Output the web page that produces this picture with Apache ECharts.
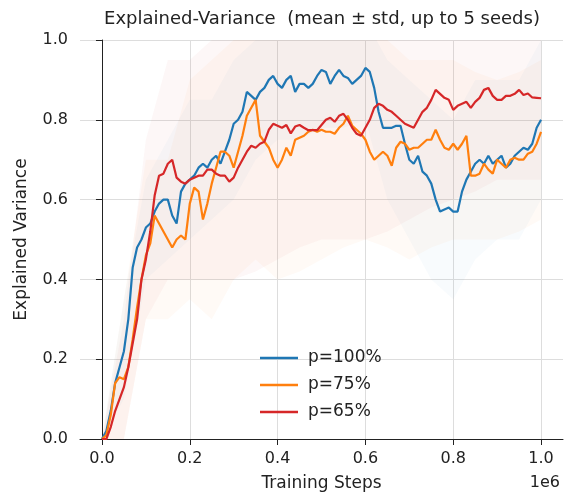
<!DOCTYPE html>
<html>
<head>
<meta charset="utf-8">
<script src="https://cdn.jsdelivr.net/npm/echarts@6/dist/echarts.min.js"></script>
<style>html,body{margin:0;padding:0;background:#fff;}#c{width:566px;height:502px;}</style>
</head>
<body>
<div id="c"></div>
<script>
// x positions in units of 1e6 training steps
const stepsM = Array.from({length: 101}, (_, i) => i / 100);

const seriesNames = ['p=100%', 'p=75%', 'p=65%'];

const meanP100 = [
  0.00,0.02,0.07,0.14,0.18,0.22,0.30,0.43,0.48,0.50,
  0.53,0.54,0.57,0.59,0.60,0.60,0.56,0.54,0.62,0.64,
  0.65,0.66,0.68,0.69,0.68,0.70,0.71,0.69,0.72,0.75,
  0.79,0.80,0.82,0.87,0.86,0.85,0.87,0.88,0.90,0.91,
  0.89,0.88,0.90,0.91,0.87,0.89,0.89,0.88,0.89,0.91,
  0.925,0.92,0.89,0.91,0.925,0.91,0.905,0.89,0.90,0.91,
  0.93,0.92,0.88,0.82,0.78,0.78,0.78,0.785,0.785,0.74,
  0.70,0.69,0.71,0.67,0.66,0.64,0.60,0.57,0.575,0.58,
  0.57,0.57,0.62,0.65,0.67,0.69,0.70,0.69,0.71,0.69,
  0.70,0.71,0.68,0.69,0.71,0.72,0.73,0.725,0.74,0.78,
  0.80
];

const meanP75 = [
  0.00,0.01,0.06,0.14,0.155,0.15,0.18,0.25,0.33,0.40,
  0.46,0.49,0.56,0.54,0.52,0.50,0.48,0.50,0.51,0.50,
  0.59,0.63,0.62,0.55,0.59,0.64,0.68,0.72,0.72,0.71,
  0.68,0.72,0.76,0.81,0.83,0.85,0.76,0.745,0.73,0.70,
  0.68,0.70,0.73,0.71,0.75,0.755,0.76,0.77,0.775,0.77,
  0.775,0.77,0.77,0.765,0.78,0.79,0.81,0.785,0.775,0.765,
  0.75,0.72,0.70,0.71,0.72,0.71,0.685,0.73,0.745,0.74,
  0.725,0.73,0.73,0.74,0.75,0.75,0.775,0.75,0.73,0.725,
  0.74,0.725,0.74,0.76,0.66,0.66,0.665,0.69,0.675,0.665,
  0.70,0.69,0.68,0.70,0.705,0.70,0.70,0.715,0.72,0.74,
  0.77
];

const meanP65 = [
  0.00,0.00,0.03,0.07,0.10,0.13,0.18,0.24,0.30,0.40,
  0.45,0.52,0.61,0.66,0.665,0.69,0.70,0.655,0.645,0.64,
  0.65,0.655,0.66,0.66,0.675,0.675,0.665,0.66,0.66,0.645,
  0.655,0.68,0.70,0.72,0.735,0.73,0.74,0.745,0.775,0.79,
  0.785,0.78,0.787,0.766,0.783,0.787,0.78,0.774,0.774,0.774,
  0.787,0.80,0.805,0.795,0.81,0.815,0.80,0.78,0.765,0.76,
  0.78,0.80,0.83,0.84,0.835,0.825,0.82,0.81,0.80,0.79,
  0.785,0.78,0.80,0.82,0.83,0.85,0.875,0.865,0.855,0.85,
  0.825,0.835,0.84,0.845,0.83,0.845,0.855,0.875,0.88,0.86,
  0.85,0.85,0.86,0.86,0.865,0.875,0.862,0.866,0.856,0.855,
  0.854
];

// std band bounds, sampled every 0.05e6 steps
const bandStepsM = [0,0.05,0.1,0.15,0.2,0.25,0.3,0.35,0.4,0.45,0.5,0.55,0.6,0.65,0.7,0.75,0.8,0.85,0.9,0.95,1.0];
const lowP100  = [0,0.10,0.40,0.45,0.50,0.55,0.60,0.70,0.75,0.75,0.78,0.78,0.80,0.60,0.50,0.40,0.35,0.45,0.50,0.50,0.60];
const highP100 = [0,0.35,0.65,0.75,0.85,0.85,0.95,1.00,1.05,1.05,1.05,1.05,1.05,0.95,0.90,0.85,0.80,0.90,0.90,0.90,1.00];
const lowP75   = [0,0.00,0.30,0.30,0.35,0.30,0.40,0.45,0.40,0.42,0.45,0.48,0.50,0.48,0.45,0.48,0.50,0.50,0.50,0.52,0.55];
const highP75  = [0,0.35,0.70,0.70,0.90,0.95,1.00,1.10,1.10,1.10,1.10,1.08,1.05,1.00,0.95,0.95,0.95,0.92,0.90,0.92,0.95];
const lowP65   = [0,0.00,0.30,0.40,0.40,0.40,0.40,0.42,0.45,0.48,0.50,0.50,0.50,0.52,0.55,0.58,0.60,0.62,0.65,0.65,0.65];
const highP65  = [0,0.30,0.75,0.95,0.95,1.00,1.05,1.08,1.10,1.10,1.10,1.10,1.10,1.08,1.05,1.08,1.10,1.08,1.05,1.05,1.05];

const xTicks = [0, 0.2, 0.4, 0.6, 0.8, 1.0];

const colors = ['#1f77b4', '#ff7f0e', '#d62728'];
const means = [meanP100, meanP75, meanP65];
const lows = [lowP100, lowP75, lowP65];
const highs = [highP100, highP75, highP65];

const series = [];
// std bands as polygons drawn through the axis scales
for (let k = 0; k < 3; k++) {
  const data = bandStepsM.map((x, i) => [x, lows[k][i], highs[k][i]]);
  series.push({
    type: 'custom', silent: true, z: 1,
    encode: {x: 0, y: [1, 2]},
    data: data,
    renderItem: function (params, api) {
      if (params.dataIndex !== 0) return null;
      const upper = data.map(d => api.coord([d[0], d[2]]));
      const lower = data.map(d => api.coord([d[0], d[1]])).reverse();
      const cs = params.coordSys;
      return {
        type: 'polygon',
        shape: {points: upper.concat(lower)},
        style: {fill: colors[k], opacity: k === 0 ? 0.03 : 0.04},
        clipPath: {type: 'rect', shape: {x: cs.x, y: cs.y, width: cs.width, height: cs.height}}
      };
    }
  });
}
for (let k = 0; k < 3; k++) {
  series.push({
    name: seriesNames[k], type: 'line', showSymbol: false, symbol: 'none',
    lineStyle: {color: colors[k], width: 2.2}, itemStyle: {color: colors[k]},
    data: stepsM.map((x, i) => [x, means[k][i]]), z: 3 + k
  });
}

const chart = echarts.init(document.getElementById('c'), null, {renderer: 'canvas'});
chart.setOption({
  animation: false,
  backgroundColor: '#fff',
  title: [
    {text: 'Explained-Variance  (mean \u00b1 std, up to 5 seeds)', left: 322, textAlign: 'center', top: 10, padding: 0,
     textStyle: {fontFamily: 'DejaVu Sans', fontSize: 18, fontWeight: 'normal', color: '#222'}},
    {text: '1e6', right: 6, top: 475, padding: 0,
     textStyle: {fontFamily: 'DejaVu Sans', fontSize: 16, fontWeight: 'normal', color: '#222'}}
  ],
  legend: {
    data: seriesNames, orient: 'vertical', left: 255, top: 343,
    icon: 'rect', itemWidth: 38, itemHeight: 2.5, itemGap: 7,
    textStyle: {fontFamily: 'DejaVu Sans', fontSize: 17, color: '#222', lineHeight: 20, padding: [0, 0, 0, 5]}
  },
  grid: {left: 80, top: 40, width: 483, height: 399, containLabel: false},
  xAxis: {
    type: 'value', min: -0.05, max: 1.05,
    name: 'Training Steps', nameLocation: 'middle', nameGap: 36,
    nameTextStyle: {fontFamily: 'DejaVu Sans', fontSize: 17, color: '#222'},
    axisLine: {show: true, lineStyle: {color: '#222', width: 1}},
    axisTick: {show: true, customValues: xTicks, length: 6, lineStyle: {color: '#222'}},
    axisLabel: {customValues: xTicks, margin: 12, fontFamily: 'DejaVu Sans', fontSize: 16, color: '#222',
      formatter: v => v.toFixed(1)},
    splitLine: {show: true, lineStyle: {color: '#dddddd', width: 1}}
  },
  yAxis: {
    type: 'value', min: 0, max: 1, interval: 0.2,
    name: 'Explained Variance', nameLocation: 'middle', nameGap: 50,
    nameTextStyle: {fontFamily: 'DejaVu Sans', fontSize: 17, color: '#222'},
    axisLine: {show: true, lineStyle: {color: '#222', width: 1}},
    axisTick: {show: true, length: 6, lineStyle: {color: '#222'}},
    axisLabel: {margin: 12, fontFamily: 'DejaVu Sans', fontSize: 16, color: '#222',
      formatter: v => v.toFixed(1)},
    splitLine: {show: true, lineStyle: {color: '#dddddd', width: 1}}
  },
  series: series
});
</script>
</body>
</html>
